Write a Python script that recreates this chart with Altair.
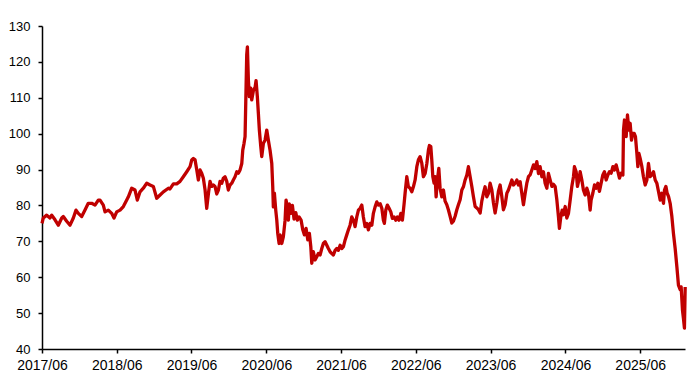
import altair as alt
import pandas as pd

# Decimal-year readings (t) and index values (v)
t_a = [2017.417, 2017.434, 2017.480, 2017.524, 2017.547, 2017.591, 2017.635, 2017.681, 2017.702, 2017.747,
       2017.792, 2017.836, 2017.872, 2017.903, 2017.948, 2017.992, 2018.036, 2018.082, 2018.126, 2018.170,
       2018.193, 2018.237, 2018.260, 2018.304, 2018.349, 2018.380, 2018.416, 2018.461, 2018.505, 2018.550,
       2018.572, 2018.617, 2018.661, 2018.692, 2018.728, 2018.772, 2018.818, 2018.862, 2018.906, 2018.951,
       2018.996, 2019.040, 2019.107]
v_a = [75.0, 76.5, 77.3, 76.5, 77.3, 76.0, 74.5, 76.5, 76.9, 75.6,
       74.5, 76.5, 78.7, 77.8, 76.9, 78.7, 80.6, 80.6, 80.1, 81.5,
       81.5, 80.1, 78.2, 78.7, 77.8, 76.5, 78.2, 78.7, 79.7, 81.5,
       82.4, 84.8, 84.3, 81.5, 83.8, 84.8, 86.2, 85.7, 85.3, 82.0,
       82.9, 83.8, 84.8]

t_b = [2019.129, 2019.174, 2019.219, 2019.263, 2019.307, 2019.353, 2019.397, 2019.420, 2019.441, 2019.464,
       2019.487, 2019.508, 2019.531, 2019.553, 2019.575, 2019.598, 2019.620, 2019.642, 2019.664, 2019.687,
       2019.709, 2019.731, 2019.754, 2019.776, 2019.798, 2019.821, 2019.842, 2019.865, 2019.888, 2019.909,
       2019.932, 2019.955, 2019.976, 2019.999, 2020.022, 2020.043, 2020.066, 2020.089, 2020.102, 2020.119,
       2020.133, 2020.155, 2020.164, 2020.177, 2020.190, 2020.209, 2020.222, 2020.244, 2020.267, 2020.280,
       2020.297, 2020.311, 2020.324, 2020.343, 2020.356, 2020.378, 2020.400]
v_b = [84.6, 86.0, 86.0, 86.7, 88.0, 89.4, 90.8, 92.7, 93.1, 92.7,
       89.9, 87.1, 89.9, 89.0, 87.6, 84.3, 79.2, 83.2, 86.7, 85.3,
       85.7, 85.3, 83.2, 84.3, 86.7, 86.2, 87.6, 88.0, 86.7, 84.3,
       85.7, 86.2, 87.1, 88.0, 89.4, 89.0, 89.9, 91.7, 95.4, 97.3,
       99.2, 122.0, 124.2, 115.0, 110.3, 112.7, 109.4, 112.0, 112.9, 114.8,
       110.3, 105.6, 101.0, 96.4, 93.6, 97.3, 98.2]

t_c = [2020.423, 2020.444, 2020.467, 2020.490, 2020.503, 2020.511, 2020.525, 2020.543, 2020.557, 2020.570,
       2020.588, 2020.601, 2020.624, 2020.645, 2020.668, 2020.681, 2020.699, 2020.712, 2020.725, 2020.748,
       2020.766, 2020.788, 2020.811, 2020.832, 2020.855, 2020.882, 2020.905, 2020.926, 2020.949, 2020.972,
       2020.993, 2021.012, 2021.025, 2021.046, 2021.069, 2021.092, 2021.113, 2021.136, 2021.159, 2021.180,
       2021.203, 2021.226, 2021.247, 2021.270, 2021.293, 2021.314, 2021.337, 2021.360, 2021.381, 2021.404,
       2021.426, 2021.448, 2021.471, 2021.493, 2021.515, 2021.537, 2021.560, 2021.582, 2021.604, 2021.627,
       2021.649, 2021.671, 2021.694, 2021.715, 2021.738, 2021.761, 2021.782, 2021.805, 2021.828, 2021.849,
       2021.872, 2021.895, 2021.916, 2021.939, 2021.962, 2021.983, 2021.996, 2022.015, 2022.036, 2022.059,
       2022.082, 2022.103, 2022.126, 2022.149, 2022.170, 2022.193, 2022.216, 2022.237, 2022.260, 2022.273,
       2022.296, 2022.317]
v_c = [101.0, 98.2, 95.4, 91.7, 85.2, 79.6, 83.4, 78.7, 75.9, 72.2,
       69.4, 71.8, 69.4, 71.3, 75.9, 81.5, 79.6, 75.9, 80.4, 77.8,
       80.0, 76.2, 78.0, 75.9, 76.8, 75.9, 73.2, 71.8, 73.6, 70.4,
       72.2, 68.5, 63.9, 67.1, 64.8, 65.7, 66.6, 66.2, 68.0, 69.4,
       69.9, 68.9, 68.0, 67.1, 66.6, 66.2, 67.5, 68.0, 67.5, 68.9,
       68.0, 68.5, 70.4, 71.8, 73.2, 74.5, 76.8, 75.9, 74.1, 76.8,
       78.7, 79.2, 80.1, 76.8, 74.1, 75.0, 73.2, 75.0, 74.5, 77.8,
       79.6, 81.0, 80.1, 80.5, 79.2, 75.9, 75.0, 78.7, 80.1, 79.2,
       78.2, 76.4, 76.8, 75.9, 76.8, 75.9, 77.8, 75.9, 80.5, 83.4,
       88.0, 85.2]

t_d = [2022.340, 2022.363, 2022.384, 2022.407, 2022.430, 2022.451, 2022.474, 2022.497, 2022.518, 2022.541,
       2022.564, 2022.585, 2022.598, 2022.617, 2022.630, 2022.644, 2022.661, 2022.675, 2022.688, 2022.705,
       2022.724, 2022.741, 2022.764, 2022.786, 2022.808, 2022.831, 2022.852, 2022.875, 2022.898, 2022.919,
       2022.942, 2022.965, 2022.986, 2023.009, 2023.032, 2023.053, 2023.076, 2023.099, 2023.120, 2023.143,
       2023.166, 2023.187, 2023.210, 2023.232, 2023.254, 2023.277, 2023.299, 2023.321, 2023.343, 2023.366,
       2023.388, 2023.410, 2023.433, 2023.455, 2023.477, 2023.500, 2023.521, 2023.544, 2023.567, 2023.588,
       2023.611, 2023.634, 2023.655, 2023.678, 2023.701, 2023.722, 2023.745, 2023.768, 2023.789, 2023.812,
       2023.834, 2023.856, 2023.879, 2023.901, 2023.923, 2023.945, 2023.968, 2023.990, 2024.012, 2024.035,
       2024.057, 2024.079, 2024.102, 2024.123, 2024.146, 2024.169, 2024.190]
v_d = [84.8, 83.8, 85.2, 87.1, 90.8, 92.7, 93.6, 91.7, 88.0, 88.9,
       91.7, 95.4, 96.7, 96.4, 92.7, 88.0, 86.2, 88.0, 82.4, 87.1,
       90.3, 84.8, 82.4, 84.3, 81.2, 80.2, 78.8, 77.0, 75.1, 75.6,
       77.0, 78.8, 80.2, 81.6, 84.3, 85.2, 87.1, 88.5, 90.8, 88.0,
       85.2, 82.4, 79.7, 79.3, 78.8, 77.9, 81.2, 83.4, 85.2, 82.4,
       83.4, 86.2, 84.3, 80.7, 77.9, 80.7, 83.9, 85.7, 82.4, 78.8,
       80.2, 83.4, 84.3, 85.7, 87.1, 85.7, 86.2, 87.1, 85.7, 86.6,
       83.4, 80.2, 83.4, 86.2, 88.0, 88.5, 89.9, 91.3, 90.3, 92.2,
       88.9, 90.8, 88.0, 89.4, 86.2, 84.8, 88.9]

t_e = [2024.236, 2024.257, 2024.280, 2024.303, 2024.324, 2024.337, 2024.356, 2024.374, 2024.391, 2024.414,
       2024.436, 2024.458, 2024.481, 2024.503, 2024.525, 2024.538, 2024.561, 2024.578, 2024.597, 2024.614,
       2024.637, 2024.658, 2024.681, 2024.704, 2024.725, 2024.748, 2024.761, 2024.784, 2024.806, 2024.828,
       2024.851, 2024.872, 2024.895, 2024.918, 2024.939, 2024.962, 2024.985, 2025.006, 2025.029, 2025.052,
       2025.073, 2025.096, 2025.119, 2025.140, 2025.163, 2025.186, 2025.194, 2025.207, 2025.230, 2025.247,
       2025.266, 2025.283, 2025.301, 2025.319, 2025.337, 2025.354, 2025.373, 2025.386, 2025.400, 2025.417,
       2025.440, 2025.461, 2025.484, 2025.507, 2025.528, 2025.551, 2025.574, 2025.595, 2025.618, 2025.640,
       2025.662, 2025.685, 2025.707, 2025.729, 2025.742, 2025.761, 2025.778, 2025.796, 2025.818, 2025.841,
       2025.862, 2025.885, 2025.908, 2025.929, 2025.952, 2025.965, 2025.983, 2025.996, 2026.009, 2026.019]
v_e = [85.3, 85.9, 85.3, 81.5, 76.9, 73.6, 76.9, 78.7, 77.4, 79.7,
       76.5, 77.8, 81.5, 85.3, 88.0, 90.8, 89.4, 85.3, 87.1, 89.4,
       87.1, 84.3, 82.9, 84.8, 83.4, 78.7, 81.5, 83.4, 85.7, 84.8,
       86.2, 83.9, 86.2, 88.5, 89.4, 87.1, 88.5, 89.4, 89.0, 90.8,
       89.9, 91.3, 89.4, 87.6, 89.0, 88.5, 101.0, 103.8, 99.2, 105.2,
       101.0, 102.9, 98.2, 100.1, 100.1, 99.2, 94.5, 90.8, 94.5, 93.1,
       90.8, 88.0, 85.7, 87.1, 91.7, 88.0, 88.5, 89.4, 87.1, 86.2,
       83.9, 81.5, 83.4, 80.6, 84.3, 85.3, 83.4, 82.5, 80.6, 76.9,
       72.2, 68.0, 62.9, 57.8, 56.5, 57.3, 50.8, 48.5, 45.8, 57.3]

tick_years = list(range(2017, 2026))
y_ticks = list(range(40, 131, 10))
x_end_year = 2026.019

base = pd.Timestamp("2017-06-01")


def to_date(yr):
    return base + pd.to_timedelta((yr - 2017.417) * 365.25, unit="D")


t_all = t_a + t_b + t_c + t_d + t_e
v_all = v_a + v_b + v_c + v_d + v_e
df = pd.DataFrame({
    "date": [to_date(t).strftime("%Y-%m-%dT%H:%M:%S") for t in t_all],
    "value": v_all,
})

end_date = to_date(x_end_year)

x_axis = alt.Axis(
    values=[alt.DateTime(year=y, month=6, date=1) for y in tick_years],
    format="%Y/%m",
    labelFont="Liberation Sans",
    labelFontSize=14,
    labelColor="#000000",
    labelPadding=5,
    tickSize=4,
    tickColor="#000000",
    tickWidth=1.5,
    domainColor="#000000",
    domainWidth=1.5,
    grid=False,
    title=None,
    labelFlush=False,
    labelOverlap=False,
)
y_axis = alt.Axis(
    values=y_ticks,
    labelFont="Liberation Sans",
    labelFontSize=13,
    labelColor="#000000",
    labelPadding=8,
    tickSize=4,
    tickColor="#000000",
    tickWidth=1.5,
    domainColor="#000000",
    domainWidth=1.5,
    grid=False,
    title=None,
)

chart = alt.Chart(df).mark_line(color="#C00000", strokeWidth=3.3, strokeJoin="round").encode(
    x=alt.X("date:T",
            scale=alt.Scale(domain=[alt.DateTime(year=2017, month=6, date=1),
                                    alt.DateTime(year=end_date.year, month=end_date.month, date=end_date.day)]),
            axis=x_axis),
    y=alt.Y("value:Q", scale=alt.Scale(domain=[40, 130], nice=False, zero=False), axis=y_axis),
).properties(
    width=643,
    height=323,
    padding={"left": 42, "top": 26, "right": 13, "bottom": 38},
    autosize=alt.AutoSizeParams(type="none"),
    background="#ffffff",
).configure_view(stroke=None)

chart.save("out.html", embed_options={"renderer": "svg", "actions": False})
